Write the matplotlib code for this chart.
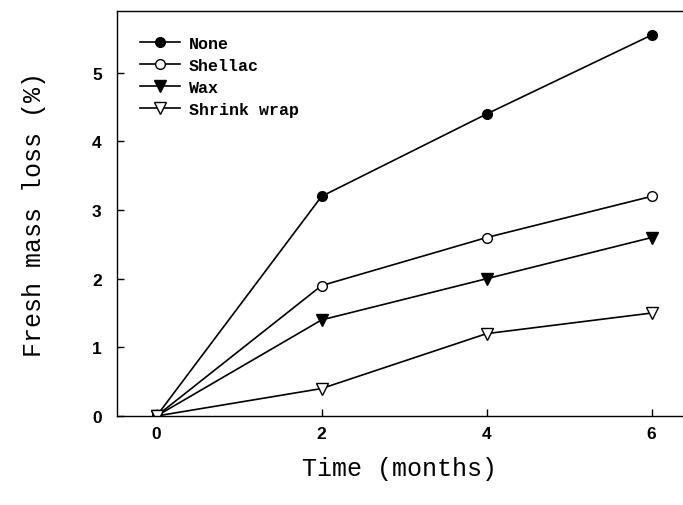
import matplotlib
matplotlib.use("Agg")
import matplotlib.pyplot as plt

# data
months = [0, 2, 4, 6]
none_loss = [0.0, 3.2, 4.4, 5.55]
shellac_loss = [0.0, 1.9, 2.6, 3.2]
wax_loss = [0.0, 1.4, 2.0, 2.6]
shrink_loss = [0.0, 0.4, 1.2, 1.5]

fig = plt.figure(figsize=(6.83, 5.06), dpi=100)
ax = fig.add_axes([117 / 683, 1 - 417 / 506, 1 - 117 / 683, (417 - 12) / 506])

lw = 1.2
ms = 7
ax.plot(months, none_loss, color="black", lw=lw, marker="o", ms=ms,
        mfc="black", mec="black", label="None")
ax.plot(months, shellac_loss, color="black", lw=lw, marker="o", ms=ms,
        mfc="white", mec="black", mew=1.0, label="Shellac")
ax.plot(months, wax_loss, color="black", lw=lw, marker="v", ms=ms + 1,
        mfc="black", mec="black", label="Wax")
ax.plot(months, shrink_loss, color="black", lw=lw, marker="v", ms=ms + 1,
        mfc="white", mec="black", mew=1.0, label="Shrink wrap")

ax.set_xlim(-0.48, 6.38)
ax.set_ylim(0, 5.9)
ax.set_xticks(months)
ax.set_yticks([0, 1, 2, 3, 4, 5])
ax.spines["right"].set_visible(False)
for s in ax.spines.values():
    s.set_linewidth(1.0)
ax.tick_params(direction="in", length=5, width=1.0, pad=7)
for lab in ax.get_xticklabels() + ax.get_yticklabels():
    lab.set_fontfamily("Liberation Sans")
    lab.set_fontweight("bold")
    lab.set_fontsize(12.5)
ax.tick_params(axis="y", pad=11)

ax.set_xlabel("Time (months)", fontfamily="Liberation Mono", fontsize=18,
              labelpad=11)
ax.set_ylabel("Fresh mass loss (%)", fontfamily="Liberation Mono", fontsize=18,
              labelpad=33)

leg = ax.legend(loc="upper left", frameon=False, handlelength=2.4,
                handletextpad=0.5, labelspacing=0.42,
                bbox_to_anchor=(0.015, 0.975),
                prop={"family": "Liberation Mono", "weight": "bold", "size": 12})

fig.savefig("out.png", dpi=100)
